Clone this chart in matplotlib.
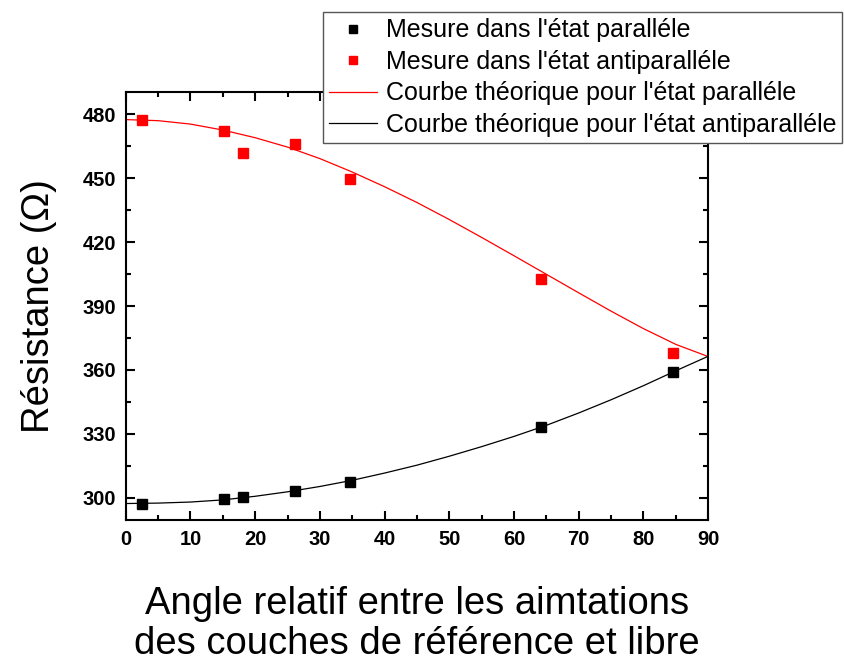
import matplotlib
matplotlib.use("Agg")
import matplotlib.pyplot as plt
from matplotlib.ticker import MultipleLocator

plt.rcParams['font.family'] = ['Liberation Sans', 'DejaVu Sans']

# measured points (angle in degrees, resistance in ohm)
angle_mes = [2.5, 15.2, 18.1, 26.2, 34.6, 64.2, 84.6]
r_par_mes = [297.2, 299.2, 300.2, 303.2, 307.6, 333.1, 359.0]
r_ap_mes = [477.5, 472.1, 461.9, 465.9, 449.5, 402.7, 367.9]

# theoretical curves
angle_th = [0, 5, 10, 15, 20, 25, 30, 35, 40, 45, 50, 55, 60, 65, 70, 75, 80, 85, 90]
r_red_th = [477.5, 477.0, 475.4, 472.6, 469.0, 464.6, 459.2, 452.9, 446.0, 438.6,
            430.6, 422.2, 413.6, 404.9, 396.2, 387.6, 379.4, 372.0, 366.3]
r_black_th = [297.3, 297.5, 298.0, 299.0, 300.7, 302.8, 305.3, 308.2, 311.6, 315.3,
              319.5, 324.0, 328.8, 334.0, 339.8, 346.0, 352.6, 359.6, 366.4]

labels = ["Mesure dans l'état paralléle",
          "Mesure dans l'état antiparalléle",
          "Courbe théorique pour l'état paralléle",
          "Courbe théorique pour l'état antiparalléle"]

fig = plt.figure(figsize=(8.44, 6.66), dpi=100)
ax = fig.add_axes([0.149, 0.219, 0.690, 0.643])

p1, = ax.plot(angle_mes, r_par_mes, 's', color='black', markersize=7.2, linestyle='none')
p2, = ax.plot(angle_mes, r_ap_mes, 's', color='#ff0000', markersize=7.2, linestyle='none')
l1, = ax.plot(angle_th, r_red_th, '-', color='#ff0000', linewidth=0.9)
l2, = ax.plot(angle_th, r_black_th, '-', color='black', linewidth=0.9)

ax.set_xlim(0, 90)
ax.set_ylim(289.5, 490.5)
ax.xaxis.set_major_locator(MultipleLocator(10))
ax.xaxis.set_minor_locator(MultipleLocator(5))
ax.yaxis.set_major_locator(MultipleLocator(30))
ax.yaxis.set_minor_locator(MultipleLocator(15))
ax.tick_params(which='both', direction='in', top=True, right=True, width=1.5)
ax.tick_params(which='major', length=6.5, labelsize=14.5)
ax.tick_params(which='minor', length=3.6)
ax.tick_params(axis='x', which='major', pad=7)
ax.tick_params(axis='y', which='major', pad=7)
for lab in ax.get_xticklabels() + ax.get_yticklabels():
    lab.set_fontweight('bold')
for sp in ax.spines.values():
    sp.set_linewidth(1.5)

ax.set_ylabel('Résistance (Ω)', fontsize=27.5, labelpad=18)
ax.set_xlabel('Angle relatif entre les aimtations\ndes couches de référence et libre',
              fontsize=27.5, labelpad=27, linespacing=1.12)

leg = ax.legend([p1, p2, l1, l2], labels, loc='upper left',
                bbox_to_anchor=(323 / 844, 1 - 12 / 666), bbox_transform=fig.transFigure,
                fontsize=18, frameon=True, fancybox=False, edgecolor='#555555',
                framealpha=1, borderpad=0.25, labelspacing=0.3, handlelength=1.9,
                handletextpad=0.35, borderaxespad=0, markerscale=0.85)
leg.get_frame().set_linewidth(1.0)

fig.savefig('out.png', dpi=100)
